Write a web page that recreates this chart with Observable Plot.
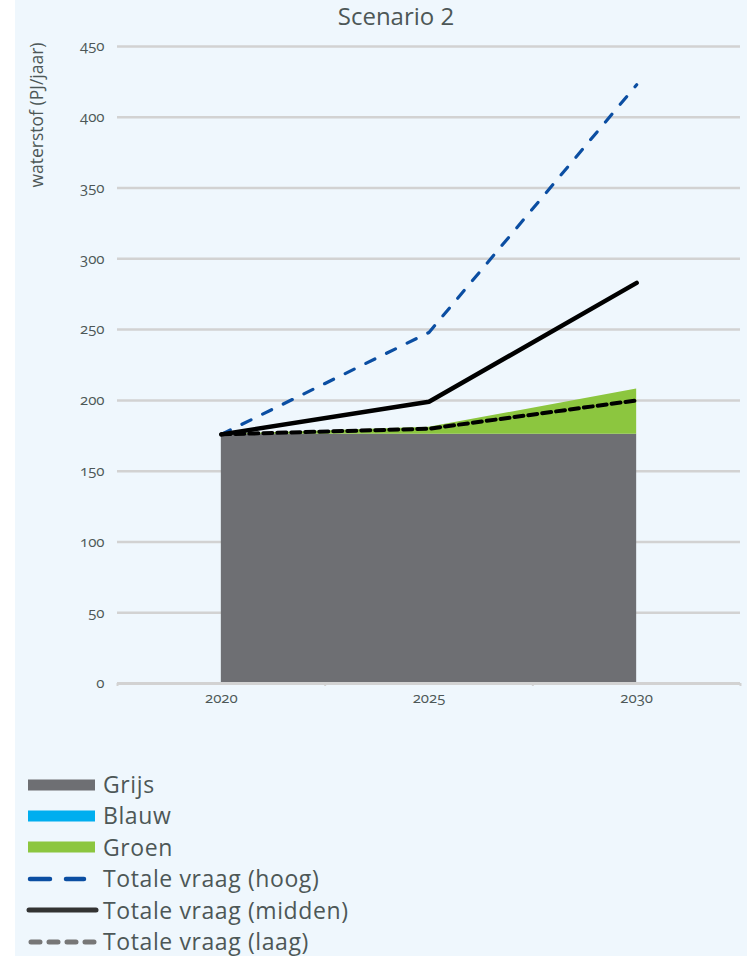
<!DOCTYPE html>
<html>
<head>
<meta charset="utf-8">
<script src="https://cdn.jsdelivr.net/npm/d3@7"></script>
<script src="https://cdn.jsdelivr.net/npm/@observablehq/plot@0.6"></script>
<style>
  html, body { margin: 0; padding: 0; background: #ffffff; }
  body { width: 747px; height: 956px; position: relative; overflow: hidden; font-family: "Open Sans", sans-serif; color: #4d5757; }
  #panel { position: absolute; left: 15px; top: 0; width: 732px; height: 956px; background: #eff7fd; }
  #chart { position: absolute; left: 0; top: 0; }
  #chart svg text { font-variant-numeric: oldstyle-nums; }
  #title { position: absolute; left: 296px; top: 1px; width: 200px; text-align: center; font-size: 24px; line-height: 30px; }
  #legend { position: absolute; left: 0; top: 769px; }
  .row { display: flex; align-items: center; height: 31.4px; font-size: 23px; letter-spacing: 0.6px; line-height: 31.4px; }
  .row svg { width: 103px; height: 16px; flex: none; }
</style>
</head>
<body>
<div id="panel"></div>
<div id="chart"></div>
<div id="title">Scenario 2</div>
<div id="legend"></div>
<script>
// Waterstofproductie per type (gestapeld) en totale vraag, PJ per jaar
const years = [2020, 2025, 2030];
const types = ["Grijs", "Blauw", "Groen"];
const grijs = [176, 176, 176];
const blauw = [0, 0, 0];
const groen = [0, 5, 32];
const vraagHoog = [176, 248, 423];
const vraagMidden = [176, 199, 283];
const vraagLaag = [176, 180, 200];
const yTicks = [0, 50, 100, 150, 200, 250, 300, 350, 400, 450];
const bandEdges = [2017.5, 2022.5, 2027.5, 2032.5];

const typeColors = ["#6e6f73", "#00aeef", "#8cc63f"];

const supply = [];
[grijs, blauw, groen].forEach((vals, k) => {
  years.forEach((yr, i) => supply.push({year: yr, type: types[k], value: vals[i]}));
});
const series = (vals) => years.map((yr, i) => ({year: yr, value: vals[i]}));

const chart = Plot.plot({
  width: 747,
  height: 725,
  marginLeft: 117,
  marginRight: 7,
  marginTop: 46,
  marginBottom: 42,
  style: {fontFamily: "Open Sans, sans-serif", fontSize: "15px", color: "#4d5757", background: "transparent"},
  x: {type: "linear", domain: [2017.5, 2032.5]},
  y: {domain: [0, 450]},
  color: {domain: types, range: typeColors},
  marks: [
    Plot.gridY(yTicks, {stroke: "#d2d2d2", strokeOpacity: 1, strokeWidth: 2.5}),
    Plot.axisY(yTicks, {tickSize: 0, tickPadding: 13, label: null, fontSize: 15, letterSpacing: 0.5}),
    Plot.text(["waterstof (PJ/jaar)"], {
      frameAnchor: "top-left", dx: -87, dy: -4, rotate: -90, textAnchor: "end",
      fontSize: 17.5, letterSpacing: 1.6, fill: "#4d5757"
    }),
    Plot.areaY(supply, Plot.stackY({x: "year", y: "value", fill: "type", order: types})),
    Plot.ruleY([0], {stroke: "#d2d2d2", strokeWidth: 3}),
    Plot.axisX(bandEdges, {tickSize: 3, tickFormat: () => "", stroke: "#d2d2d2", strokeWidth: 2, label: null}),
    Plot.axisX(years, {tickSize: 0, tickPadding: 9, tickFormat: (d) => String(d), label: null, fontSize: 15, letterSpacing: 0.6}),
    Plot.line(series(vraagHoog), {x: "year", y: "value", stroke: "#0b4ea2", strokeWidth: 3.2, strokeDasharray: "10,13", strokeLinecap: "round"}),
    Plot.line(series(vraagMidden), {x: "year", y: "value", stroke: "#000000", strokeWidth: 4.5, strokeLinecap: "round", strokeLinejoin: "miter"}),
    Plot.line(series(vraagLaag), {x: "year", y: "value", stroke: "#000000", strokeWidth: 4, strokeDasharray: "9,5"})
  ]
});
document.getElementById("chart").appendChild(chart);

// Legenda
const legendItems = [
  {label: "Grijs", kind: "rect", color: typeColors[0]},
  {label: "Blauw", kind: "rect", color: typeColors[1]},
  {label: "Groen", kind: "rect", color: typeColors[2]},
  {label: "Totale vraag (hoog)", kind: "line", color: "#0b4ea2", x1: 30, x2: 84, width: 4.5, dash: "20,16", cap: "round"},
  {label: "Totale vraag (midden)", kind: "line", color: "#333333", x1: 29, x2: 96, width: 5, dash: null, cap: "round"},
  {label: "Totale vraag (laag)", kind: "line", color: "#777777", x1: 31, x2: 97, width: 5, dash: "9,9", cap: "round"}
];
const legend = d3.select("#legend");
for (const item of legendItems) {
  const row = legend.append("div").attr("class", "row");
  const sw = row.append("svg").attr("viewBox", "0 0 103 16");
  if (item.kind === "rect") {
    sw.append("rect").attr("x", 28).attr("y", 2.5).attr("width", 67).attr("height", 11).attr("fill", item.color);
  } else {
    const ln = sw.append("line").attr("x1", item.x1).attr("x2", item.x2).attr("y1", 8).attr("y2", 8)
      .attr("stroke", item.color).attr("stroke-width", item.width).attr("stroke-linecap", item.cap);
    if (item.dash) ln.attr("stroke-dasharray", item.dash);
  }
  row.append("span").text(item.label);
}
</script>
</body>
</html>
